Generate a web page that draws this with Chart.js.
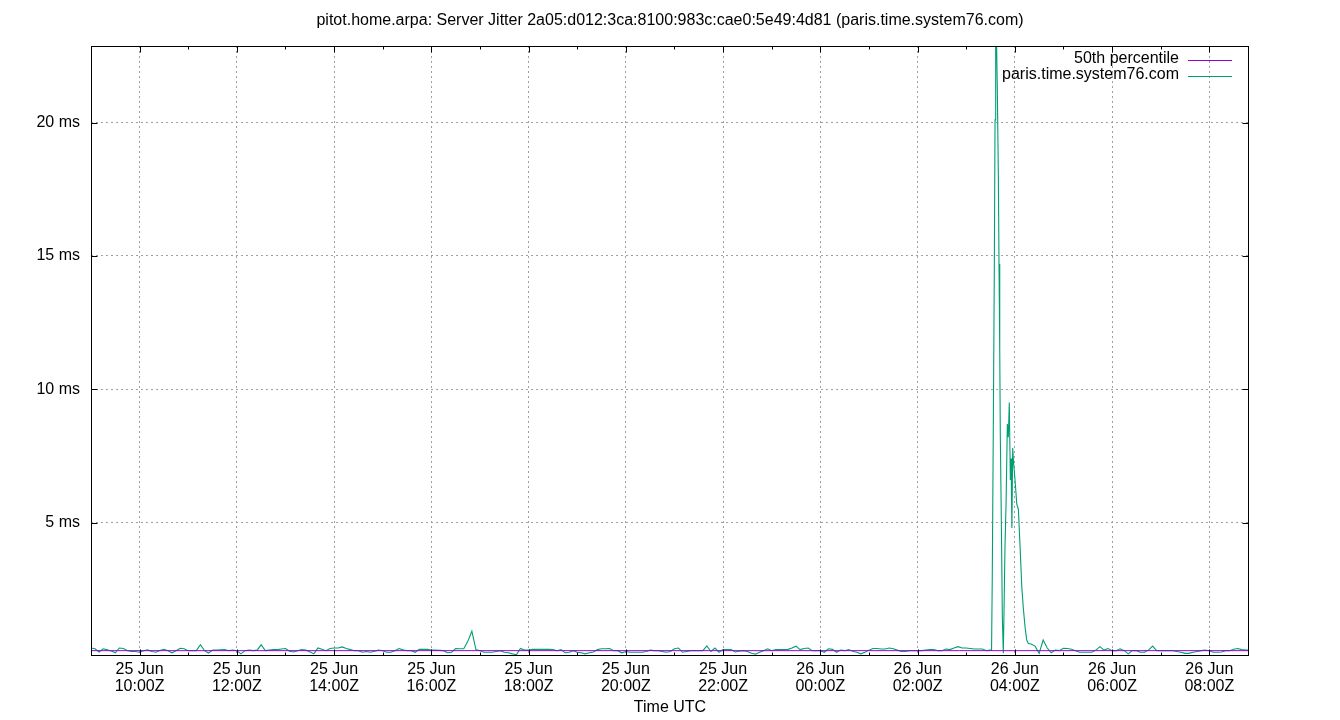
<!DOCTYPE html>
<html>
<head>
<meta charset="utf-8">
<script src="https://cdn.jsdelivr.net/npm/chart.js@4.4.1/dist/chart.umd.min.js"></script>
<style>
  html, body { margin: 0; padding: 0; background: #fff; }
  #wrap { width: 1340px; height: 720px; }
</style>
</head>
<body>
<div id="wrap"><canvas id="grafico"></canvas></div>
<script>
// Tiempo en minutos desde 25 Jun 09:00Z
const tituloGrafico = "pitot.home.arpa: Server Jitter 2a05:d012:3ca:8100:983c:cae0:5e49:4d81 (paris.time.system76.com)";
const finVentanaMin = 1429;

// Ticks del eje X (cada 2 horas)
const xTickMin = [60, 180, 300, 420, 540, 660, 780, 900, 1020, 1140, 1260, 1380];
const xTickLabels = [
  ["25 Jun", "10:00Z"], ["25 Jun", "12:00Z"], ["25 Jun", "14:00Z"], ["25 Jun", "16:00Z"],
  ["25 Jun", "18:00Z"], ["25 Jun", "20:00Z"], ["25 Jun", "22:00Z"], ["26 Jun", "00:00Z"],
  ["26 Jun", "02:00Z"], ["26 Jun", "04:00Z"], ["26 Jun", "06:00Z"], ["26 Jun", "08:00Z"]
];
const yTickMs = [5, 10, 15, 20];

const colorMediana = "#9400d3";
const colorJitter = "#009e73";

// Mediana (50th percentile)
const medianaMin = [0, 1429];
const medianaMs = [0.2, 0.2];

// Jitter antes del pico: una muestra cada 5 min desde 09:00Z (una fila = una hora)
const pasoMin = 5;
const jitterAntes = [
  0.30, 0.27, 0.15, 0.27, 0.23, 0.19, 0.12, 0.30, 0.28, 0.20, 0.17, 0.17,
  0.14, 0.20, 0.23, 0.17, 0.14, 0.21, 0.25, 0.20, 0.12, 0.20, 0.29, 0.27,
  0.20, 0.20, 0.20, 0.42, 0.20, 0.11, 0.22, 0.22, 0.23, 0.24, 0.20, 0.22,
  0.20, 0.08, 0.20, 0.22, 0.20, 0.22, 0.42, 0.20, 0.22, 0.24, 0.24, 0.26,
  0.28, 0.18, 0.15, 0.20, 0.24, 0.22, 0.16, 0.08, 0.30, 0.25, 0.20, 0.28,
  0.30, 0.30, 0.34, 0.28, 0.24, 0.20, 0.20, 0.14, 0.17, 0.14, 0.18, 0.22,
  0.20, 0.14, 0.14, 0.20, 0.28, 0.23, 0.20, 0.20, 0.14, 0.25, 0.25, 0.25,
  0.22, 0.22, 0.21, 0.20, 0.12, 0.14, 0.28, 0.27, 0.27, 0.55, 0.93, 0.24,
  0.20, 0.14, 0.14, 0.14, 0.17, 0.20, 0.14, 0.12, 0.08, 0.05, 0.28, 0.22,
  0.22, 0.25, 0.25, 0.25, 0.25, 0.25, 0.24, 0.20, 0.24, 0.12, 0.14, 0.20,
  0.14, 0.12, 0.08, 0.12, 0.15, 0.24, 0.27, 0.27, 0.28, 0.20, 0.20, 0.12,
  0.17, 0.14, 0.14, 0.14, 0.14, 0.17, 0.22, 0.20, 0.20, 0.17, 0.14, 0.17,
  0.27, 0.30, 0.14, 0.17, 0.20, 0.20, 0.20, 0.20, 0.38, 0.17, 0.30, 0.14,
  0.24, 0.24, 0.24, 0.15, 0.18, 0.20, 0.17, 0.10, 0.07, 0.14, 0.20, 0.27,
  0.20, 0.24, 0.24, 0.24, 0.25, 0.30, 0.37, 0.24, 0.28, 0.30, 0.20, 0.20,
  0.20, 0.14, 0.27, 0.25, 0.14, 0.22, 0.20, 0.24, 0.18, 0.14, 0.08, 0.14,
  0.22, 0.28, 0.28, 0.26, 0.26, 0.30, 0.27, 0.22, 0.17, 0.17, 0.20, 0.20,
  0.20, 0.20, 0.22, 0.24, 0.24, 0.20, 0.20, 0.26, 0.24, 0.30, 0.35, 0.30,
  0.30, 0.28, 0.26, 0.26, 0.26, 0.20, 0.22
];

// Pico de ~03:31Z a ~04:17Z (muestras más densas)
const picoMin = [
  1111.3, 1112.2, 1113.5, 1114.7, 1115.6, 1116.4, 1117.2, 1118.4, 1119.7, 1120.5,
  1121.4, 1122.1, 1123.4, 1124.6, 1125.8, 1126.7, 1127.9, 1129.2, 1130.8, 1132.0,
  1133.2, 1134.5, 1135.4, 1136.4, 1137.4, 1138.6, 1140.3, 1142.4, 1144.4, 1146.5,
  1148.6, 1150.5, 1152.6, 1154.7, 1156.7
];
const picoMs = [
  0.22, 3.0, 8.7, 14.4, 20.1, 25.0, 23.5, 21.3, 18.0, 14.7,
  11.5, 8.3, 5.0, 1.5, 0.1, 1.7, 4.1, 5.7, 8.7, 8.2,
  9.5, 6.6, 7.4, 4.8, 7.8, 7.2, 6.6, 5.7, 5.5, 4.1,
  2.6, 1.8, 1.1, 0.6, 0.47
];

// Después del pico: cada 5 min desde 04:20Z
const inicioDespuesMin = 1160;
const jitterDespues = [
  0.45, 0.37, 0.10, 0.60, 0.30, 0.12, 0.22, 0.20, 0.29, 0.28, 0.25, 0.20,
  0.14, 0.14, 0.14, 0.14, 0.22, 0.35, 0.22, 0.28, 0.20, 0.20, 0.27, 0.20,
  0.08, 0.20, 0.20, 0.14, 0.14, 0.22, 0.37, 0.20, 0.20, 0.20, 0.20, 0.20,
  0.17, 0.14, 0.10, 0.10, 0.14, 0.17, 0.20, 0.22, 0.20, 0.14, 0.14, 0.15,
  0.20, 0.20, 0.25, 0.28, 0.24, 0.22, 0.22, 0.22
];

// Armar la serie completa
const serieJitter = [];
jitterAntes.forEach((v, i) => serieJitter.push({ x: i * pasoMin, y: v }));
picoMin.forEach((m, i) => serieJitter.push({ x: m, y: picoMs[i] }));
jitterDespues.forEach((v, i) => serieJitter.push({ x: inicioDespuesMin + i * pasoMin, y: v }));

const serieMediana = medianaMin.map((m, i) => ({ x: m, y: medianaMs[i] }));

// Marco negro, ticks hacia adentro y leyenda estilo gnuplot
const marcoPlugin = {
  id: "marco",
  afterDraw(chart) {
    const { ctx, chartArea: a, scales } = chart;
    const x = scales.x, y = scales.y;
    const L = Math.round(a.left) + 0.5, R = Math.round(a.right) - 0.5;
    const T = Math.round(a.top) + 0.5, B = Math.round(a.bottom) - 0.5;
    ctx.save();
    ctx.strokeStyle = "#000";
    ctx.lineWidth = 1;
    ctx.setLineDash([]);
    ctx.strokeRect(L, T, R - L, B - T);

    ctx.beginPath();
    for (let m = 60; m < finVentanaMin; m += 60) {
      const px = Math.round(x.getPixelForValue(m)) + 0.5;
      const largo = xTickMin.includes(m) ? 6 : 3;
      ctx.moveTo(px, B); ctx.lineTo(px, B - largo);
      ctx.moveTo(px, T); ctx.lineTo(px, T + largo);
    }
    yTickMs.forEach(v => {
      const py = Math.round(y.getPixelForValue(v)) + 0.5;
      ctx.moveTo(L, py); ctx.lineTo(L + 6, py);
      ctx.moveTo(R, py); ctx.lineTo(R - 6, py);
    });
    ctx.stroke();

    // leyenda
    const colores = [colorMediana, colorJitter];
    ctx.font = '16px "Liberation Sans", Arial, sans-serif';
    ctx.textAlign = "right";
    ctx.textBaseline = "middle";
    chart.data.datasets.forEach((ds, i) => {
      const ty = a.top + 13 + i * 16;
      ctx.fillStyle = "#000";
      ctx.fillText(ds.label, a.right - 70, ty);
      const ly = Math.round(ty + 1) + 0.5;
      ctx.strokeStyle = colores[i];
      ctx.lineWidth = 1;
      ctx.beginPath();
      ctx.moveTo(a.right - 61, ly);
      ctx.lineTo(a.right - 17, ly);
      ctx.stroke();
    });
    ctx.restore();
  }
};

Chart.defaults.font.family = '"Liberation Sans", Arial, sans-serif';
Chart.defaults.font.size = 16;
Chart.defaults.color = "#000";

new Chart(document.getElementById("grafico").getContext("2d"), {
  type: "line",
  data: {
    datasets: [
      {
        label: "50th percentile",
        data: serieMediana,
        borderColor: colorMediana,
        borderWidth: 1,
        pointRadius: 0,
        fill: false
      },
      {
        label: "paris.time.system76.com",
        data: serieJitter,
        borderColor: colorJitter,
        borderWidth: 1.1,
        pointRadius: 0,
        fill: false,
        tension: 0
      }
    ]
  },
  options: {
    responsive: true,
    maintainAspectRatio: false,
    animation: false,
    events: [],
    layout: { padding: 0 },
    plugins: {
      legend: { display: false },
      tooltip: { enabled: false },
      title: {
        display: true,
        text: tituloGrafico,
        font: { size: 16, weight: "normal", lineHeight: 1.25 },
        color: "#000",
        padding: { top: 11, bottom: 15 }
      }
    },
    scales: {
      x: {
        type: "linear",
        min: 0,
        max: finVentanaMin,
        afterBuildTicks(s) { s.ticks = xTickMin.map(v => ({ value: v })); },
        afterFit(s) { s.height = 64; },
        ticks: {
          autoSkip: false,
          maxRotation: 0,
          padding: 5,
          font: { size: 16, lineHeight: 1.07 },
          callback: (v) => xTickLabels[xTickMin.indexOf(v)]
        },
        grid: { color: "#a0a0a0", lineWidth: 1, drawTicks: false },
        border: { display: false, dash: [2, 3] },
        title: { display: true, text: "Time UTC", font: { size: 16 }, padding: { top: 0, bottom: 3 } }
      },
      y: {
        min: 0,
        max: 22.87,
        afterBuildTicks(s) { s.ticks = yTickMs.map(v => ({ value: v })); },
        afterFit(s) { s.width = 91; },
        ticks: { padding: 11, callback: (v) => v + " ms" },
        grid: { color: "#a0a0a0", lineWidth: 1, drawTicks: false },
        border: { display: false, dash: [2, 3] }
      },
      y2: {
        position: "right",
        afterFit(s) { s.width = 91; },
        ticks: { display: false },
        grid: { display: false },
        border: { display: false }
      }
    }
  },
  plugins: [marcoPlugin]
});
</script>
</body>
</html>
